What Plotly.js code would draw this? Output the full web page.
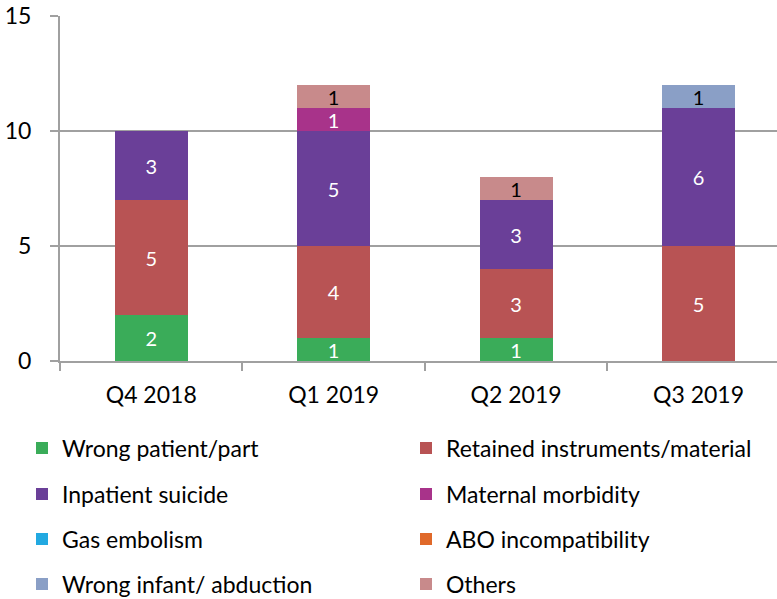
<!DOCTYPE html>
<html><head><meta charset="utf-8">
<script src="https://cdn.plot.ly/plotly-3.0.1.min.js"></script>
<style>html,body{margin:0;padding:0;background:#fff}#chart{width:777px;height:599px}</style>
</head><body><div id="chart"></div>
<script>
const categories = ["Q4 2018", "Q1 2019", "Q2 2019", "Q3 2019"];
const seriesNames = ["Wrong patient/part", "Retained instruments/material", "Inpatient suicide", "Maternal morbidity", "Gas embolism", "ABO incompatibility", "Wrong infant/ abduction", "Others"];
const wrongPatient = [2, 1, 1, null];
const retained = [5, 4, 3, 5];
const suicide = [3, 5, 3, 6];
const maternal = [null, 1, null, null];
const gasEmbolism = [null, null, null, null];
const abo = [null, null, null, null];
const wrongInfant = [null, null, null, 1];
const others = [null, 1, 1, null];
const yTicks = [0, 5, 10, 15];

const seriesValues = [wrongPatient, retained, suicide, maternal, gasEmbolism, abo, wrongInfant, others];
const colors = ["#3aac59", "#b85354", "#6a3f98", "#a8338a", "#22a9e1", "#e0692a", "#8a9fc6", "#c88a8b"];
const textColors = ["#fff", "#fff", "#fff", "#fff", "#fff", "#fff", "#000", "#000"];
const FONT = "Lato, 'Open Sans', sans-serif";

const legendIds = seriesNames.map((_, i) => i === 0 ? "legend" : "legend" + (i + 1));

const traces = seriesNames.map((name, i) => ({
  type: "bar",
  name: name,
  x: categories,
  y: seriesValues[i],
  width: 0.4,
  marker: {color: colors[i], line: {width: 0}},
  text: seriesValues[i].map(v => v == null ? "" : String(v)),
  textposition: "inside",
  insidetextanchor: "middle",
  textangle: 0,
  constraintext: "none",
  textfont: {family: FONT, size: 20, color: textColors[i]},
  hoverinfo: "skip",
  legend: legendIds[i]
}));

// plot area: left 60, width 717; top 16, bottom 361
const plotW = 717, plotH = 345, plotL = 60, plotB = 361;
const colX = [22, 406];
const rowY = [448, 494, 539, 584];

const layout = {
  width: 777, height: 599,
  margin: {l: 60, r: 0, t: 16, b: 238, autoexpand: false},
  paper_bgcolor: "#fff", plot_bgcolor: "#fff",
  barmode: "stack",
  showlegend: true,
  font: {family: FONT, size: 22, color: "#000"},
  xaxis: {
    type: "category", range: [-0.5, 3.43],
    showline: true, linecolor: "#a0a0a0", linewidth: 2,
    ticks: "outside", tickson: "boundaries", ticklen: 8, tickcolor: "#a0a0a0", tickwidth: 2,
    ticklabelstandoff: 12,
    tickfont: {family: FONT, size: 23, color: "#000"},
    showgrid: false, fixedrange: true, automargin: false
  },
  yaxis: {
    range: [0, 15], tickvals: yTicks, ticktext: yTicks.map(String),
    showline: true, linecolor: "#a0a0a0", linewidth: 2,
    ticks: "outside", ticklen: 8, tickcolor: "#a0a0a0", tickwidth: 2,
    ticklabelstandoff: 14,
    showgrid: true, gridcolor: "#a0a0a0", gridwidth: 2,
    zeroline: false,
    tickfont: {family: FONT, size: 23, color: "#000"},
    fixedrange: true, automargin: false
  }
};

legendIds.forEach((id, i) => {
  const col = i % 2, row = Math.floor(i / 2);
  layout[id] = {
    orientation: "v",
    x: (colX[col] - plotL) / plotW, xanchor: "left",
    y: (plotB - rowY[row]) / plotH, yanchor: "middle",
    font: {family: FONT, size: 23, color: "#000"},
    bgcolor: "rgba(0,0,0,0)", borderwidth: 0,
    itemclick: false, itemdoubleclick: false
  };
});

Plotly.newPlot("chart", traces, layout, {displayModeBar: false, staticPlot: true});
</script>
</body></html>
